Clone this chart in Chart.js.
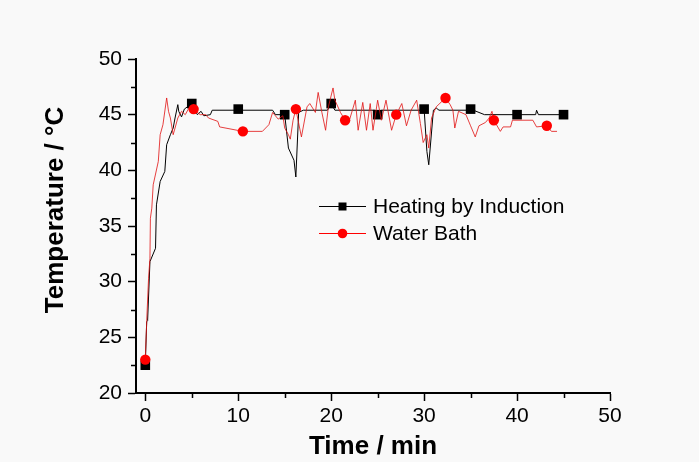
<!DOCTYPE html>
<html>
<head>
<meta charset="utf-8">
<script src="https://cdn.jsdelivr.net/npm/chart.js@4.4.0/dist/chart.umd.min.js"></script>
<style>
  html, body { margin: 0; padding: 0; background: #f9f9f9; }
  #wrap { width: 699px; height: 462px; }
</style>
</head>
<body>
<div id="wrap"><canvas id="chart" width="699" height="462"></canvas></div>
<script>
// --- data ---
const seriesNames = ['Heating by Induction', 'Water Bath'];

// heating by induction: full trace + the square symbols
const inductionTime = [0, 0.15, 0.25, 0.5, 1.1, 1.2, 1.6, 2.1, 2.3, 2.7, 3.0, 3.2, 3.5, 3.6, 3.9, 4.2, 5.0, 5.3, 5.6, 6.0, 6.3, 7.0, 7.2, 10.0, 13.7, 14.0, 15.0, 15.4, 16.0, 16.2, 16.5, 17.0, 19.6, 20.0, 20.4, 24.7, 25.0, 25.4, 29.7, 30.0, 30.3, 30.5, 31.0, 31.3, 31.6, 34.7, 35.0, 36.5, 40.0, 42.0, 42.1, 42.3, 45.0];
const inductionTemp = [22.5, 26.4, 26.5, 31.8, 33.0, 36.9, 39.0, 39.9, 42.3, 43.2, 43.8, 44.7, 45.9, 45.3, 44.8, 45.5, 46.0, 45.5, 45.0, 45.3, 44.9, 45.0, 45.4, 45.4, 45.4, 45.0, 45.0, 42.0, 40.9, 39.4, 45.2, 45.4, 45.4, 46.0, 45.4, 45.4, 45.0, 45.4, 45.4, 45.5, 41.7, 40.5, 45.4, 45.6, 45.4, 45.4, 45.5, 45.0, 45.0, 45.0, 45.4, 45.0, 45.0];
const inductionMarkTime = [0, 5, 10, 15, 20, 25, 30, 35, 40, 45];
const inductionMarkTemp = [22.5, 46.0, 45.5, 45.0, 46.0, 45.0, 45.5, 45.5, 45.0, 45.0];

// water bath: full trace + the round symbols
const bathTime = [0, 0.18, 0.35, 0.5, 0.55, 0.7, 0.85, 1.4, 1.6, 1.9, 2.3, 2.5, 2.7, 3.0, 3.2, 3.5, 3.9, 4.3, 4.7, 5.2, 5.9, 6.5, 6.8, 7.8, 8.0, 10.5, 12.6, 13.3, 13.7, 14.3, 14.8, 15.0, 15.4, 15.6, 15.9, 16.2, 16.8, 17.4, 17.7, 18.3, 18.6, 19.0, 19.4, 19.7, 20.2, 20.4, 21.0, 21.5, 22.0, 22.6, 22.9, 23.4, 23.8, 24.2, 24.5, 25.0, 25.4, 25.9, 26.5, 27.0, 27.6, 28.1, 28.6, 29.2, 29.6, 29.9, 30.3, 30.5, 30.8, 31.3, 32.3, 32.8, 33.1, 33.3, 33.7, 34.5, 35.0, 35.5, 35.9, 36.6, 37.0, 37.3, 37.5, 38.2, 38.5, 39.3, 39.5, 41.7, 42.1, 43.2, 43.7, 44.3];
const bathTemp = [23.0, 27.0, 30.3, 32.1, 35.7, 36.6, 38.7, 40.8, 43.2, 44.1, 46.5, 45.3, 44.7, 43.2, 43.8, 44.7, 45.3, 45.0, 45.6, 45.5, 45.0, 45.0, 44.7, 44.4, 43.9, 43.5, 43.5, 44.1, 45.2, 44.6, 44.9, 43.8, 43.2, 42.8, 44.5, 45.5, 43.0, 45.7, 46.0, 45.2, 47.0, 45.2, 43.6, 45.7, 47.4, 46.3, 45.2, 44.5, 44.6, 46.3, 43.6, 46.1, 43.6, 46.0, 43.6, 46.3, 44.5, 46.3, 43.6, 45.0, 46.0, 44.0, 45.4, 46.3, 44.2, 42.5, 43.2, 42.0, 44.7, 45.7, 46.5, 45.9, 45.4, 43.8, 45.3, 45.0, 44.0, 43.0, 44.0, 44.3, 44.7, 45.3, 44.5, 43.5, 43.9, 43.9, 44.5, 44.5, 43.9, 44.0, 43.5, 43.5];
const bathMarkTime = [0, 5.2, 10.5, 16.2, 21.5, 27.0, 32.3, 37.5, 43.2];
const bathMarkTemp = [23.0, 45.5, 43.5, 45.5, 44.5, 45.0, 46.5, 44.5, 44.0];

// axes
const xTickValues = [0, 10, 20, 30, 40, 50];
const xMinorValues = [5, 15, 25, 35, 45];
const yTickValues = [20, 25, 30, 35, 40, 45, 50];
const yMinorValues = [22.5, 27.5, 32.5, 37.5, 42.5, 47.5];
const yTitle = 'Temperature / °C';

const FONT = 'Arial, "Liberation Sans", sans-serif';
const RED = '#ff0000';

const toPoints = (xs, ys) => xs.map((x, i) => ({ x: x, y: ys[i] }));

// minor ticks, drawn outward like the major ones
const minorTicks = {
    id: 'minorTicks',
    afterDraw(chart) {
        const ctx = chart.ctx;
        const { x, y } = chart.scales;
        ctx.save();
        ctx.strokeStyle = '#000';
        ctx.lineWidth = 1.5;
        ctx.beginPath();
        xMinorValues.forEach(v => {
            const px = Math.round(x.getPixelForValue(v)) + 0.5;
            ctx.moveTo(px, y.bottom);
            ctx.lineTo(px, y.bottom + 5);
        });
        yMinorValues.forEach(v => {
            const py = Math.round(y.getPixelForValue(v)) + 0.5;
            ctx.moveTo(x.left, py);
            ctx.lineTo(x.left - 5, py);
        });
        ctx.stroke();

        // y title sits a little above the axis middle in the original
        ctx.translate(56, 210);
        ctx.rotate(-Math.PI / 2);
        ctx.font = 'bold 26px ' + FONT;
        ctx.fillStyle = '#000';
        ctx.textAlign = 'center';
        ctx.textBaseline = 'middle';
        ctx.fillText(yTitle, 0, 0);
        ctx.restore();
    }
};

// Origin-style legend: line segment with the symbol on it
const symbolLegend = {
    id: 'symbolLegend',
    afterDraw(chart) {
        const ctx = chart.ctx;
        const rows = [
            { label: seriesNames[0], color: '#000', style: 'rect', y: 206 },
            { label: seriesNames[1], color: RED, style: 'circle', y: 233 }
        ];
        ctx.save();
        ctx.font = '21px ' + FONT;
        ctx.textBaseline = 'middle';
        rows.forEach(r => {
            ctx.strokeStyle = r.color;
            ctx.lineWidth = 1;
            ctx.beginPath();
            ctx.moveTo(319, r.y + 0.5);
            ctx.lineTo(366, r.y + 0.5);
            ctx.stroke();
            ctx.fillStyle = r.color;
            if (r.style === 'rect') {
                ctx.fillRect(338.5, r.y - 3.5, 8, 8);
            } else {
                ctx.beginPath();
                ctx.arc(342.5, r.y + 0.5, 4.8, 0, Math.PI * 2);
                ctx.fill();
            }
            ctx.fillStyle = '#000';
            ctx.fillText(r.label, 373, r.y + 1);
        });
        ctx.restore();
    }
};

const canvasBg = {
    id: 'canvasBg',
    beforeDraw(chart) {
        const ctx = chart.ctx;
        ctx.save();
        ctx.fillStyle = '#f9f9f9';
        ctx.fillRect(0, 0, chart.width, chart.height);
        ctx.restore();
    }
};

new Chart(document.getElementById('chart'), {
    type: 'scatter',
    data: {
        datasets: [
            {
                label: seriesNames[1] + ' symbols', order: 0,
                data: toPoints(bathMarkTime, bathMarkTemp),
                showLine: false, pointStyle: 'circle', pointRadius: 5.2,
                backgroundColor: RED, borderColor: RED, borderWidth: 0
            },
            {
                label: seriesNames[1], order: 1,
                data: toPoints(bathTime, bathTemp),
                showLine: true, pointRadius: 0, tension: 0,
                borderColor: 'rgba(225,20,20,0.9)', borderWidth: 0.9
            },
            {
                label: seriesNames[0] + ' symbols', order: 2,
                data: toPoints(inductionMarkTime, inductionMarkTemp),
                showLine: false, pointStyle: 'rect', pointRadius: 6.8,
                backgroundColor: '#000', borderColor: '#000', borderWidth: 0
            },
            {
                label: seriesNames[0], order: 3,
                data: toPoints(inductionTime, inductionTemp),
                showLine: true, pointRadius: 0, tension: 0,
                borderColor: '#000', borderWidth: 1
            }
        ]
    },
    options: {
        responsive: false,
        animation: false,
        events: [],
        layout: { padding: { left: 0, right: 89, top: 59, bottom: 0 } },
        plugins: {
            legend: { display: false },
            tooltip: { enabled: false }
        },
        scales: {
            x: {
                type: 'linear', min: -1, max: 50,
                afterBuildTicks: s => { s.ticks = xTickValues.map(v => ({ value: v })); },
                afterFit: s => { s.height = 69; },
                border: { display: true, color: '#000', width: 2 },
                grid: { drawOnChartArea: false, drawTicks: true, tickLength: 8, tickColor: '#000', tickWidth: 1.5 },
                ticks: { color: '#000', font: { family: FONT, size: 21 }, padding: 3, maxRotation: 0 },
                title: {
                    display: true, text: 'Time / min', color: '#000',
                    font: { family: FONT, size: 26, weight: 'bold' },
                    padding: { top: 0, bottom: 0 }
                }
            },
            y: {
                type: 'linear', min: 20, max: 50,
                afterBuildTicks: s => { s.ticks = yTickValues.map(v => ({ value: v })); },
                afterFit: s => { s.width = 136; },
                border: { display: true, color: '#000', width: 2 },
                grid: { drawOnChartArea: false, drawTicks: true, tickLength: 8, tickColor: '#000', tickWidth: 1.5 },
                ticks: { color: '#000', font: { family: FONT, size: 21 }, padding: 6 },
                title: { display: false }
            }
        }
    },
    plugins: [canvasBg, minorTicks, symbolLegend]
});
</script>
</body>
</html>
